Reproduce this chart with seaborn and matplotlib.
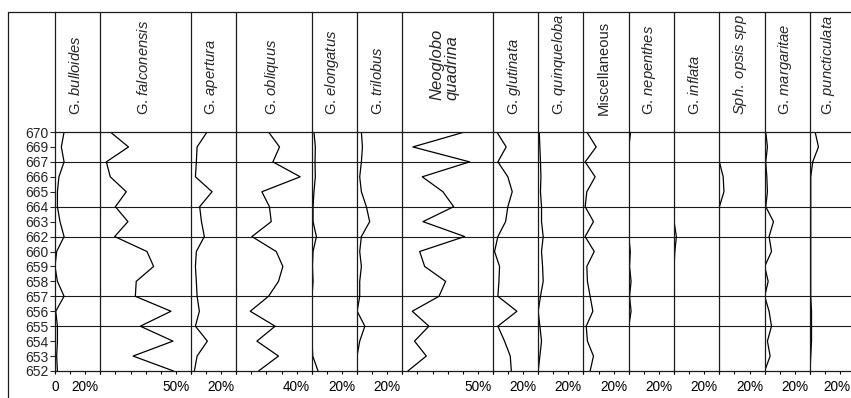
import numpy as np
import pandas as pd
import matplotlib
matplotlib.use("Agg")
import matplotlib.pyplot as plt
import matplotlib.transforms as mtransforms
from matplotlib.lines import Line2D
import seaborn as sns

# ---------------- data ----------------
depths = [670, 669, 667, 666, 665, 664, 663, 662, 660, 659, 658, 657, 656, 655, 654, 653, 652]
boundary_depths = [667, 664, 662, 657, 655]

taxa_labels = [
    r"G. $\mathit{bulloides}$",
    r"G. $\mathit{falconensis}$",
    r"G. $\mathit{apertura}$",
    r"G. $\mathit{obliquus}$",
    r"G. $\mathit{elongatus}$",
    r"G. $\mathit{trilobus}$",
    "Neoglobo\nquadrina",
    r"G. $\mathit{glutinata}$",
    r"G. $\mathit{quinqueloba}$",
    "Miscellaneous",
    r"G. $\mathit{nepenthes}$",
    r"G. $\mathit{inflata}$",
    r"$\mathit{Sph.\ opsis\ spp}$",
    r"G. $\mathit{margaritae}$",
    r"G. $\mathit{puncticulata}$",
]
axis_max = [30, 60, 30, 50, 30, 30, 60, 30, 30, 30, 30, 30, 30, 30, 27]
labelled_tick = [20, 50, 20, 40, 20, 20, 50, 20, 20, 20, 20, 20, 20, 20, 20]

bulloides = [6.0, 4.2, 6.0, 2.6, 1.6, 1.6, 3.3, 6.0, 1.1, 0.0, 1.6, 6.0, 0.5, 1.6, 1.6, 1.1, 1.6]
falconensis = [6.6, 18.7, 4.0, 6.6, 17.2, 10.0, 18.3, 9.5, 30.9, 35.3, 23.8, 23.2, 46.8, 26.5, 48.1, 21.7, 48.5]
apertura = [10.7, 4.1, 3.6, 3.0, 14.0, 5.8, 7.0, 8.9, 3.6, 3.0, 3.6, 4.1, 5.6, 3.0, 10.9, 4.1, 2.3]
obliquus = [21.4, 28.7, 24.3, 42.4, 17.0, 22.0, 23.2, 10.4, 26.5, 30.9, 28.0, 21.4, 9.3, 25.8, 13.7, 28.0, 14.8]
elongatus = [1.5, 2.4, 2.2, 2.4, 1.5, 0.9, 0.9, 3.1, 0.9, 0.5, 0.9, 0.2, 0.0, 0.2, 0.2, 0.7, 4.2]
trilobus = [2.9, 3.6, 2.9, 1.8, 2.9, 6.2, 8.4, 2.9, 1.8, 2.9, 1.8, 1.8, 0.1, 5.2, 1.8, 0.0, 0.0]
neogloboquadrina = [41.3, 7.0, 44.6, 13.2, 26.9, 34.0, 13.7, 41.3, 11.5, 14.8, 28.7, 24.3, 6.6, 17.6, 8.1, 15.9, 3.7]
glutinata = [2.6, 8.8, 3.3, 9.9, 12.8, 9.9, 8.4, 3.3, 1.1, 4.4, 4.0, 3.3, 15.9, 3.3, 7.7, 11.5, 12.2]
quinqueloba = [0.7, 1.1, 1.5, 1.8, 1.5, 2.2, 2.2, 3.3, 2.2, 2.9, 3.3, 1.5, 0.0, 1.1, 2.2, 1.1, 0.0]
miscellaneous = [2.2, 8.4, 1.1, 7.7, 2.2, 1.1, 6.6, 1.1, 7.1, 2.2, 2.6, 4.4, 6.2, 1.8, 2.6, 6.6, 4.4]
nepenthes = [1.2, 0.0, 0.0, 0.0, 0.0, 0.0, 0.0, 0.0, 1.0, 0.5, 1.5, 0.5, 1.5, 0.0, 0.0, 0.0, 0.0]
inflata = [0.0, 0.0, 0.0, 0.0, 0.0, 0.0, 0.0, 1.5, 0.5, 0.0, 0.0, 0.0, 0.0, 0.0, 0.0, 0.0, 0.0]
sphaeroidinellopsis = [0.0, 0.0, 0.0, 2.5, 3.0, 0.0, 0.0, 0.0, 0.0, 0.0, 0.0, 0.0, 0.0, 0.0, 0.0, 0.0, 0.0]
margaritae = [0.7, 1.8, 0.7, 1.4, 1.8, 0.7, 5.8, 2.9, 4.5, 0.0, 2.3, 0.0, 2.9, 4.5, 1.8, 3.6, 0.0]
puncticulata = [3.4, 5.6, 1.8, 0.5, 0.5, 0.5, 0.5, 0.5, 0.5, 0.5, 0.5, 0.5, 1.0, 1.0, 1.0, 0.5, 0.0]

series = [bulloides, falconensis, apertura, obliquus, elongatus, trilobus,
          neogloboquadrina, glutinata, quinqueloba, miscellaneous, nepenthes,
          inflata, sphaeroidinellopsis, margaritae, puncticulata]

# ---------------- style ----------------
sns.set_style("white")
plt.rcParams["font.family"] = ["Liberation Sans", "DejaVu Sans"]
plt.rcParams["mathtext.fontset"] = "custom"
plt.rcParams["mathtext.rm"] = "Liberation Sans"
plt.rcParams["mathtext.it"] = "Liberation Sans:italic"
plt.rcParams["mathtext.default"] = "regular"

W, H = 851, 398
fig = plt.figure(figsize=(W / 100, H / 100), dpi=100)
fig.patch.set_facecolor("white")

x_start = 55.0
px_per_pct = 1.51
y_top, y_bot, y_head = 132.0, 371.0, 12.0
frame_x = 8.0
LINE = "#1a1a1a"


def fx(px):
    return px / W


def fy(py):
    return 1 - py / H


positions = np.arange(len(depths))
left = x_start
n = len(series)
for i, vals in enumerate(series):
    width = axis_max[i] * px_per_pct
    ax = fig.add_axes([fx(left), fy(y_bot), width / W, (y_bot - y_top) / H])
    df = pd.DataFrame({"value": vals, "pos": positions})
    sns.lineplot(data=df, x="value", y="pos", orient="y", sort=False,
                 estimator=None, color="black", lw=0.9, ax=ax)
    ax.set_xlim(0, axis_max[i])
    ax.set_ylim(len(depths) - 1, 0)
    for d in boundary_depths:
        ax.axhline(depths.index(d), color=LINE, lw=0.8, zorder=1)
    for side in ["left", "top", "bottom"]:
        ax.spines[side].set_visible(True)
        ax.spines[side].set_color(LINE)
        ax.spines[side].set_linewidth(0.9)
    ax.spines["right"].set_visible(False)
    ax.set_xlabel("")
    ax.set_ylabel("")
    ticks = np.arange(0, axis_max[i] + 0.1, 10)
    ax.set_xticks(ticks)
    tl = []
    for t in ticks:
        if t == labelled_tick[i]:
            tl.append(f"{int(t)}%")
        elif i == 0 and t == 0:
            tl.append("0")
        else:
            tl.append("")
    ax.set_xticklabels(tl)
    ax.tick_params(axis="x", direction="out", length=2.5, width=0.8,
                   pad=4, labelsize=9.8, colors="black", bottom=True)
    if i == n - 1:
        offset = mtransforms.ScaledTranslation(-3 / 100, 0, fig.dpi_scale_trans)
        for lab in ax.get_xticklabels():
            lab.set_transform(lab.get_transform() + offset)
    if i == 0:
        ax.set_yticks(positions)
        ax.set_yticklabels([str(d) for d in depths])
        ax.tick_params(axis="y", direction="out", length=3.5, width=0.8,
                       pad=1, labelsize=10, left=True)
    else:
        ax.set_yticks([])
    ax.patch.set_alpha(0)

    # header cell boundary and label
    fig.add_artist(Line2D([fx(left), fx(left)], [fy(y_head), fy(y_top)],
                          color=LINE, lw=0.9, transform=fig.transFigure))
    cx = left + width / 2 - 2
    if "\n" in taxa_labels[i]:
        fig.text(fx(cx - 1), fy(100), taxa_labels[i], rotation=90, ha="center",
                 va="bottom", fontsize=12, fontstyle="italic",
                 multialignment="left", linespacing=1.05)
    else:
        fig.text(fx(cx), fy(115), taxa_labels[i], rotation=90, ha="center",
                 va="bottom", fontsize=10.6)
    left += width

# header frame
fig.add_artist(Line2D([fx(frame_x), 1.0], [fy(y_head), fy(y_head)],
                      color=LINE, lw=0.9, transform=fig.transFigure))
fig.add_artist(Line2D([fx(frame_x), fx(frame_x)], [fy(y_head), 0.0],
                      color=LINE, lw=0.9, transform=fig.transFigure))

fig.savefig("out.png", dpi=100, facecolor="white")
